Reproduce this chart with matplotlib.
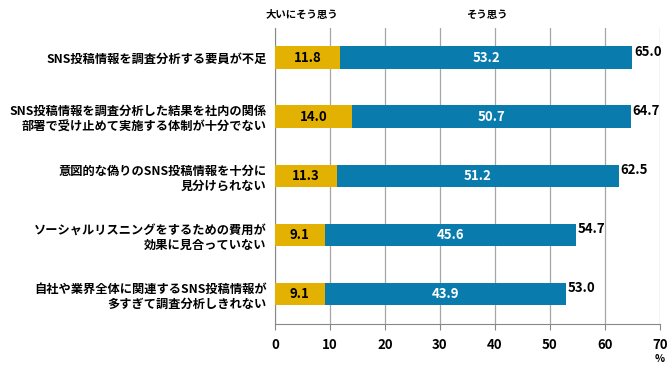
import numpy as np
import matplotlib.pyplot as plt

plt.rcParams['font.family'] = ['Noto Sans CJK JP', 'DejaVu Sans']

# data -----------------------------------------------------------------------
categories = ["SNS投稿情報を調査分析する要員が不足",
              "SNS投稿情報を調査分析した結果を社内の関係\n部署で受け止めて実施する体制が十分でない",
              "意図的な偽りのSNS投稿情報を十分に\n見分けられない",
              "ソーシャルリスニングをするための費用が\n効果に見合っていない",
              "自社や業界全体に関連するSNS投稿情報が\n多すぎて調査分析しきれない"]
strongly = [11.8, 14.0, 11.3, 9.1, 9.1]
agree    = [53.2, 50.7, 51.2, 45.6, 43.9]
totals   = [65.0, 64.7, 62.5, 54.7, 53.0]
series_names = ["大いにそう思う", "そう思う"]
xticks = [0, 10, 20, 30, 40, 50, 60, 70]

c_gold = '#E3B102'
c_blue = '#0A7BAD'

fig = plt.figure(figsize=(6.72, 3.68), dpi=100)
ax = fig.add_axes([0.409, 0.12, 0.573, 0.804])

y = np.arange(len(categories))
h = 0.38
ax.barh(y, strongly, height=h, color=c_gold, zorder=3)
ax.barh(y, agree, left=strongly, height=h, color=c_blue, zorder=3)

for i in range(len(categories)):
    ax.text(strongly[i]/2, y[i], f"{strongly[i]:.1f}", ha='center', va='center',
            fontsize=9.5, fontweight='bold', color='black', zorder=4)
    ax.text(strongly[i] + agree[i]/2, y[i], f"{agree[i]:.1f}", ha='center', va='center',
            fontsize=9.5, fontweight='bold', color='white', zorder=4)
    ax.text(totals[i] + 0.3, y[i] - 0.1, f"{totals[i]:.1f}", ha='left', va='center',
            fontsize=9.5, fontweight='bold', color='black', zorder=4)

ax.set_xlim(0, 70)
ax.set_ylim(4.5, -0.5)
ax.set_xticks(xticks)
ax.set_xticklabels([str(t) for t in xticks], fontsize=9.5, fontweight='bold')
ax.set_yticks(y)
ax.set_yticklabels(categories, fontsize=8.8, fontweight='bold', linespacing=1.25)
ax.tick_params(axis='y', length=0, pad=6)
ax.tick_params(axis='x', length=4, color='#888888', pad=6)

ax.grid(axis='x', color='#A6A6A6', linewidth=0.9, zorder=0)
for s in ['top', 'right']:
    ax.spines[s].set_visible(False)
ax.spines['left'].set_color('#888888')
ax.spines['bottom'].set_color('#888888')

# header labels
ax.text(5, -0.72, series_names[0], ha='center', va='center', fontsize=7.5, fontweight='bold')
ax.text(38.5, -0.72, series_names[1], ha='center', va='center', fontsize=7.5, fontweight='bold')
fig.text(0.982, 0.012, "%", ha='center', va='bottom', fontsize=7.5, fontweight='bold')

fig.savefig("out.png", dpi=100)
